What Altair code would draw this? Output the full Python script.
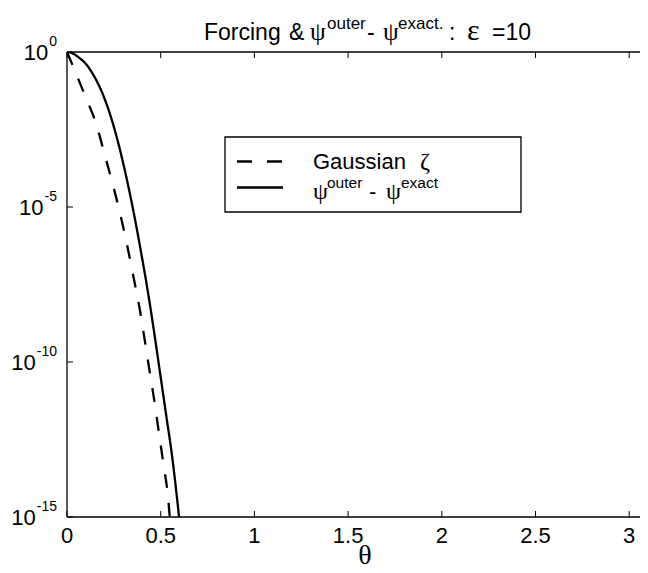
import altair as alt
import pandas as pd

# ---- data ----
theta_outer = [0.0, 0.02, 0.068, 0.10, 0.139, 0.192, 0.237, 0.272, 0.31, 0.35, 0.39, 0.44, 0.48, 0.50, 0.53, 0.56, 0.598]
value_outer = [1.0, 0.955, 0.63, 0.42, 0.19, 0.042, 7.1e-3, 1.26e-3, 1.4e-4, 1.0e-5, 5.2e-7, 8.9e-9, 2.2e-10, 3.2e-11, 1.8e-12, 1.0e-13, 1.0e-15]

theta_gauss = [0.0, 0.032, 0.094, 0.157, 0.201, 0.245, 0.285, 0.322, 0.356, 0.388, 0.415, 0.441, 0.468, 0.491, 0.516, 0.539, 0.548]
value_gauss = [1.0, 0.35, 0.042, 4.5e-3, 4.9e-4, 5.2e-5, 5.6e-6, 5.4e-7, 5.1e-8, 5.1e-9, 5.0e-10, 5.0e-11, 4.7e-12, 4.9e-13, 4.5e-14, 4.5e-15, 1.05e-15]

x_ticks = [0, 0.5, 1, 1.5, 2, 2.5, 3]
x_tick_labels = ["0", "0.5", "1", "1.5", "2", "2.5", "3"]
y_tick_exps = [0, -5, -10, -15]
series_names = ["Gaussian", "outer-exact"]

# ---- layout ----
W, H = 573, 465
PX = 187.4  # pixels per theta unit
SANS = "Liberation Sans"
SERIF = "Liberation Serif"

xscale = alt.Scale(domain=[0, W / PX], nice=False, zero=False)
yscale = alt.Scale(type="log", domain=[1e-15, 1], nice=False)

df = pd.concat([
    pd.DataFrame({"theta": theta_gauss, "value": value_gauss, "series": series_names[0]}),
    pd.DataFrame({"theta": theta_outer, "value": value_outer, "series": series_names[1]}),
])

lines = alt.Chart(df).mark_line(clip=True, color="black", strokeWidth=2.3, interpolate="monotone").encode(
    x=alt.X("theta:Q", scale=xscale, axis=None),
    y=alt.Y("value:Q", scale=yscale, axis=None),
    strokeDash=alt.StrokeDash("series:N", scale=alt.Scale(domain=series_names, range=[[14, 15], [1, 0]]), legend=None),
    detail="series:N",
)

one = pd.DataFrame({"a": [0]})
tick_df = pd.DataFrame({"theta": x_ticks, "label": x_tick_labels})
ytick_df = pd.DataFrame({"value": [10.0 ** e for e in y_tick_exps]})

frame_style = dict(color="black", strokeWidth=1.3)
left_line = alt.Chart(one).mark_rule(**frame_style).encode(x=alt.value(0), y=alt.value(0), y2=alt.value(H))
top_line = alt.Chart(one).mark_rule(**frame_style).encode(x=alt.value(0), x2=alt.value(W), y=alt.value(0))
bot_line = alt.Chart(one).mark_rule(**frame_style).encode(x=alt.value(0), x2=alt.value(W), y=alt.value(H))

bt = alt.Chart(tick_df).mark_rule(color="black", strokeWidth=1).encode(
    x=alt.X("theta:Q", scale=xscale, axis=None), y=alt.value(H), y2=alt.value(H - 6))
tt = alt.Chart(tick_df).mark_rule(color="black", strokeWidth=1).encode(
    x=alt.X("theta:Q", scale=xscale, axis=None), y=alt.value(0), y2=alt.value(6))
lt = alt.Chart(ytick_df).mark_rule(color="black", strokeWidth=1).encode(
    y=alt.Y("value:Q", scale=yscale, axis=None), x=alt.value(0), x2=alt.value(6))

xlabels = alt.Chart(tick_df).mark_text(font=SANS, fontSize=22, align="center", baseline="alphabetic",
                                       color="black").encode(
    x=alt.X("theta:Q", scale=xscale, axis=None), y=alt.value(H + 26), text="label:N")


def txt(s, x, y, size, font=SANS, align="left", baseline="alphabetic"):
    return alt.Chart(one).mark_text(text=s, font=font, fontSize=size, align=align,
                                    baseline=baseline, color="black").encode(
        x=alt.value(x), y=alt.value(y))


xtitle = txt("θ", 298, H + 47, 28, SERIF, align="center")

# y tick labels 10^e
ylabels = []
for e in y_tick_exps:
    sup = str(e)
    w = sum(4.7 if c == "-" else 7.8 for c in sup)
    d = pd.DataFrame({"value": [10.0 ** e]})
    ylabels.append(alt.Chart(d).mark_text(
        text="10", font=SANS, fontSize=22, align="right", baseline="middle", color="black", dy=1).encode(
        y=alt.Y("value:Q", scale=yscale, axis=None), x=alt.value(-10 - w - 1)))
    ylabels.append(alt.Chart(d).mark_text(
        text=sup, font=SANS, fontSize=14, align="right", baseline="middle", color="black", dy=-10).encode(
        y=alt.Y("value:Q", scale=yscale, axis=None), x=alt.value(-10)))

# title pieces (x relative to plot left, which is at page x = 67)
O = 67
TB, TS = -12.3, -23.5
title = [
    txt("Forcing", 204 - O, TB, 23),
    txt("&", 289 - O, TB, 23),
    txt("ψ", 310 - O, TB, 25, SERIF),
    txt("outer", 327 - O, TS, 17),
    txt("-", 367 - O, TB, 23),
    txt("ψ", 383 - O, TB, 25, SERIF),
    txt("exact.", 398 - O, TS, 17),
    txt(":", 449 - O, TB, 23),
    txt("ε", 467 - O, TB, 30, SERIF),
    txt("=10", 492 - O, TB, 23),
]

# legend
LX0, LY0, LX1, LY1 = 225 - O, 137 - 52, 521 - O, 212 - 52
box = alt.Chart(one).mark_rect(fill="white", stroke="black", strokeWidth=1.3).encode(
    x=alt.value(LX0), x2=alt.value(LX1), y=alt.value(LY0), y2=alt.value(LY1))
samp_d = alt.Chart(one).mark_rule(color="black", strokeWidth=2.3, strokeDash=[15, 15]).encode(
    x=alt.value(237 - O), x2=alt.value(283 - O), y=alt.value(161.5 - 52))
samp_s = alt.Chart(one).mark_rule(color="black", strokeWidth=2.3).encode(
    x=alt.value(237 - O), x2=alt.value(283 - O), y=alt.value(187.5 - 52))
LB1, LB2, LS2 = 169 - 52, 199 - 52, 188 - 52
legend = [
    box, samp_d, samp_s,
    txt("Gaussian", 313 - O, LB1, 22),
    txt("ζ", 420 - O, LB1, 24, SERIF),
    txt("ψ", 313 - O, LB2, 24, SERIF),
    txt("outer", 327 - O, LS2, 15.5),
    txt("-", 369 - O, LB2, 22),
    txt("ψ", 386 - O, LB2, 24, SERIF),
    txt("exact", 401 - O, LS2, 15.5),
]

chart = alt.layer(
    lines, left_line, top_line, bot_line, bt, tt, lt, xlabels, xtitle, *ylabels, *title, *legend
).properties(
    width=W, height=H,
    background="white",
    autosize=alt.AutoSizeParams(type="none"),
    padding={"left": 59, "top": 44, "right": 0, "bottom": 54},
).configure_view(stroke=None)

chart.save("out.html", embed_options={"renderer": "svg", "actions": False})
